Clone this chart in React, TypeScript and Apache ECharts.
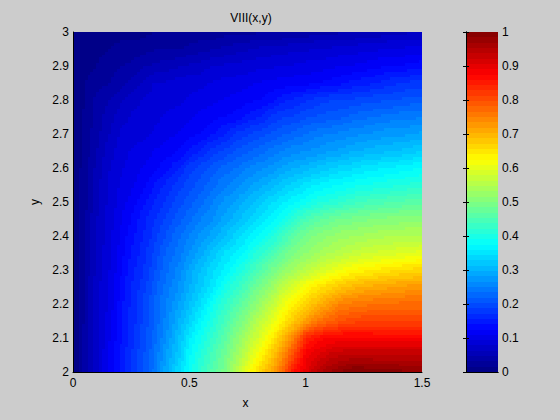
import React, { useEffect, useRef } from "react";
import * as echarts from "echarts";

// x samples 0..1.5 in steps of 0.05, y samples 3..2 in steps of 0.05; values in thousandths
const xSamples = [0,.05,.1,.15,.2,.25,.3,.35,.4,.45,.5,.55,.6,.65,.7,.75,.8,.85,.9,.95,1,1.05,1.1,1.15,1.2,1.25,1.3,1.35,1.4,1.45,1.5];
const ySamples = [3,2.95,2.9,2.85,2.8,2.75,2.7,2.65,2.6,2.55,2.5,2.45,2.4,2.35,2.3,2.25,2.2,2.15,2.1,2.05,2];
const surface = [
[0,0,5,5,10,10,10,15,15,15,20,20,20,25,25,25,30,30,30,35,35,40,40,45,45,50,50,55,55,60,60],
[0,5,10,15,20,20,25,30,30,30,35,40,45,50,55,60,65,70,70,75,75,80,80,85,85,90,90,95,95,100,100],
[0,10,15,25,30,35,45,50,55,60,65,70,80,80,85,85,90,90,95,95,100,100,105,110,110,115,120,125,125,130,135],
[0,15,25,30,40,50,65,80,80,85,90,90,95,100,100,105,110,115,115,120,120,125,130,135,145,150,155,165,170,175,180],
[0,15,35,45,60,70,80,85,90,90,95,100,105,110,115,120,125,135,150,160,170,180,185,190,190,195,200,200,205,210,210],
[0,20,35,55,70,80,85,90,95,100,105,115,120,125,130,145,155,175,185,190,200,205,210,215,225,230,235,240,245,245,250],
[0,20,40,60,80,85,90,95,105,110,120,125,140,155,175,185,195,205,215,225,235,245,250,255,260,265,270,275,275,280,285],
[0,20,45,70,85,95,100,110,115,125,140,160,180,190,205,215,225,240,250,260,265,270,280,285,295,300,305,310,315,320,330],
[0,25,50,75,90,100,110,120,135,155,180,195,210,225,235,250,260,270,285,295,305,315,325,335,340,350,355,360,365,370,375],
[0,25,55,80,95,105,120,140,160,180,195,210,230,245,260,275,290,305,320,335,350,360,370,375,385,390,395,400,405,410,415],
[0,25,55,80,100,115,135,155,175,195,210,230,250,270,285,305,320,340,355,370,385,400,410,420,430,440,445,450,455,460,465],
[0,30,60,85,105,125,150,170,190,210,230,250,265,285,305,325,345,365,385,420,445,460,475,485,490,495,500,505,505,510,510],
[0,30,60,85,110,135,155,180,205,230,250,270,290,310,335,355,375,400,430,465,490,505,515,525,530,535,540,545,545,550,550],
[0,30,65,90,115,140,165,190,220,240,265,290,320,345,360,385,415,440,470,500,515,530,545,555,565,575,580,585,590,595,600],
[0,35,65,90,120,150,170,200,230,255,285,315,340,360,390,420,450,485,510,535,555,575,595,610,625,635,640,650,655,660,665],
[0,35,70,95,125,155,180,210,240,265,295,325,355,390,420,455,490,520,560,590,625,645,665,680,695,705,710,715,720,725,725],
[0,35,70,95,130,160,190,220,250,280,310,345,385,420,450,485,520,560,600,640,665,695,720,750,755,760,765,765,770,770,770],
[0,35,70,100,130,160,190,220,255,295,330,370,405,440,480,515,555,595,635,680,720,755,780,795,805,810,810,810,810,810,810],
[0,40,70,105,135,165,195,225,265,310,355,390,425,460,505,545,585,635,690,750,840,865,875,880,880,880,875,875,875,875,875],
[0,40,70,110,140,170,200,235,280,320,370,410,445,480,525,575,625,675,730,810,885,905,925,935,940,940,940,940,940,940,940],
[0,40,70,110,140,170,200,240,290,340,380,420,460,490,550,610,660,710,770,860,900,940,970,985,1000,1000,990,990,990,980,980],
];
const xTicks = { min: 0, max: 1.5, interval: 0.5 };
const yTicks = { min: 2, max: 3, interval: 0.1 };
const jetStops = ["#000080","#0000ff","#0080ff","#00ffff","#80ff80","#ffff00","#ff8000","#ff0000","#800000"];
const BAND_COUNT = 64;
const colourbarBands = Array.from({ length: BAND_COUNT }, (_, k) => (k + 0.5) / BAND_COUNT);

const FONT = "Liberation Sans";
const labelStyle = { color: "#000", fontFamily: FONT, fontSize: 12 };
const blackLine = { lineStyle: { color: "#000", width: 1 } };

const bandColour = (v: number) => {
  const k = Math.min(BAND_COUNT - 1, Math.max(0, Math.floor(v * BAND_COUNT)));
  return echarts.color.lerp((k + 0.5) / BAND_COUNT, jetStops) as string;
};

export default function App() {
  const ref = useRef<HTMLDivElement>(null);
  useEffect(() => {
    const chart = echarts.init(ref.current!, undefined, { renderer: "svg" });
    // one item per grid square: its lower-left read value, plus row and column to find the other corners
    const cells: number[][] = [];
    for (let r = 0; r < ySamples.length - 1; r++) {
      for (let c = 0; c < xSamples.length - 1; c++) {
        cells.push([xSamples[c], ySamples[r], surface[r][c] / 1000, r, c]);
      }
    }
    const STEPS_X = 4;
    const STEPS_Y = 6;
    const surfaceCell = (params: any, api: any) => {
      const r = api.value(3);
      const c = api.value(4);
      const a = api.coord([xSamples[c], ySamples[r]]);
      const b = api.coord([xSamples[c + 1], ySamples[r + 1]]);
      const tl = surface[r][c] / 1000;
      const tr = surface[r][c + 1] / 1000;
      const bl = surface[r + 1][c] / 1000;
      const br = surface[r + 1][c + 1] / 1000;
      const children: any[] = [];
      for (let j = 0; j < STEPS_Y; j++) {
        const fy = (j + 0.5) / STEPS_Y;
        const y0 = Math.round(a[1] + ((b[1] - a[1]) * j) / STEPS_Y);
        const y1 = Math.round(a[1] + ((b[1] - a[1]) * (j + 1)) / STEPS_Y);
        for (let i = 0; i < STEPS_X; i++) {
          const fx = (i + 0.5) / STEPS_X;
          const x0 = Math.round(a[0] + ((b[0] - a[0]) * i) / STEPS_X);
          const x1 = Math.round(a[0] + ((b[0] - a[0]) * (i + 1)) / STEPS_X);
          const shade =
            tl * (1 - fx) * (1 - fy) + tr * fx * (1 - fy) + bl * (1 - fx) * fy + br * fx * fy;
          children.push({
            type: "rect",
            shape: { x: x0, y: y0, width: x1 - x0, height: y1 - y0 },
            style: { fill: bandColour(shade) },
          });
        }
      }
      return { type: "group", children };
    };
    const halfBand = 0.5 / BAND_COUNT;
    const barCell = (_params: any, api: any) => {
      const v = api.value(1);
      const a = api.coord([0, v + halfBand]);
      const b = api.coord([1, v - halfBand]);
      const y0 = Math.round(a[1]);
      const y1 = Math.round(b[1]);
      return {
        type: "rect",
        shape: { x: a[0], y: y0, width: b[0] - a[0], height: y1 - y0 },
        style: { fill: bandColour(v) },
      };
    };
    chart.setOption({
      animation: false,
      backgroundColor: "#cccccc",
      title: {
        text: "VIII(x,y)",
        left: 246,
        top: 7,
        textAlign: "center",
        textStyle: { ...labelStyle, fontWeight: "normal" },
      },
      grid: [
        { left: 73, top: 32, width: 349, height: 340 },
        { left: 466, top: 32, width: 32, height: 340 },
      ],
      xAxis: [
        {
          type: "value", gridIndex: 0, ...xTicks, z: 5,
          name: "x", nameLocation: "middle", nameGap: 25,
          nameTextStyle: { ...labelStyle, padding: [0, 4, 0, 0] },
          axisLine: blackLine, axisTick: { show: false },
          axisLabel: { ...labelStyle, margin: 5 }, splitLine: { show: false },
        },
        {
          type: "value", gridIndex: 1, min: 0, max: 1, position: "bottom", z: 5,
          axisLine: blackLine, axisTick: { show: false }, axisLabel: { show: false }, splitLine: { show: false },
        },
        {
          type: "value", gridIndex: 1, min: 0, max: 1, position: "top", z: 5,
          axisLine: blackLine, axisTick: { show: false }, axisLabel: { show: false }, splitLine: { show: false },
        },
      ],
      yAxis: [
        {
          type: "value", gridIndex: 0, ...yTicks, z: 5,
          name: "y", nameLocation: "middle", nameGap: 30, nameTextStyle: labelStyle,
          axisLine: blackLine, axisTick: { show: false },
          axisLabel: { ...labelStyle, margin: 4 }, splitLine: { show: false },
        },
        {
          type: "value", gridIndex: 1, min: 0, max: 1, interval: 0.1, position: "right", z: 5,
          axisLine: blackLine, axisTick: { inside: true, length: 3, ...blackLine },
          axisLabel: { ...labelStyle, margin: 4 }, splitLine: { show: false },
        },
        {
          type: "value", gridIndex: 1, min: 0, max: 1, interval: 0.1, position: "left", z: 5,
          axisLine: blackLine, axisTick: { inside: true, length: 3, ...blackLine },
          axisLabel: { show: false }, splitLine: { show: false },
        },
      ],
      series: [
        {
          type: "custom", xAxisIndex: 0, yAxisIndex: 0, clip: true,
          encode: { x: 0, y: 1 }, data: cells, renderItem: surfaceCell,
        },
        {
          type: "custom", xAxisIndex: 1, yAxisIndex: 1, clip: true,
          encode: { x: 0, y: 1 },
          data: colourbarBands.map((v) => [0.5, v]),
          renderItem: barCell,
        },
      ],
    });
    return () => chart.dispose();
  }, []);
  return (
    <div
      ref={ref}
      style={{ position: "absolute", left: 0, top: 0, width: 560, height: 420 }}
    />
  );
}
